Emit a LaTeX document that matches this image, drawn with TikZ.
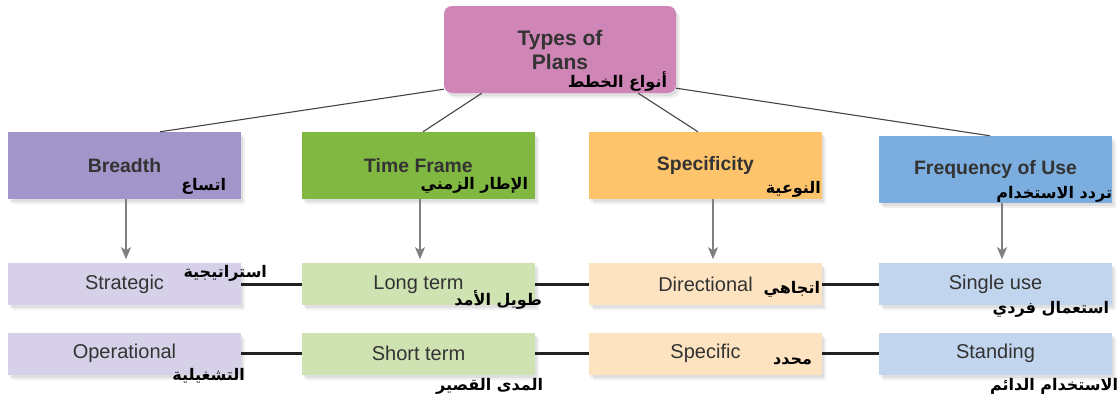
\documentclass[tikz,border=0pt]{standalone}
\usepackage{fontspec}
\setmainfont{Liberation Sans}
\newfontfamily\arabicfont[Script=Arabic]{DejaVu Sans}
\TeXXeTstate=1
\usetikzlibrary{positioning,shadows,arrows.meta}

\definecolor{rootpink}{HTML}{CF85B5}
\definecolor{breadthpurple}{HTML}{A195C9}
\definecolor{timegreen}{HTML}{80B842}
\definecolor{specorange}{HTML}{FEC46C}
\definecolor{freqblue}{HTML}{7BAEDE}
\definecolor{breadthlight}{HTML}{D6D1E8}
\definecolor{timelight}{HTML}{CFE2B2}
\definecolor{speclight}{HTML}{FDE3C0}
\definecolor{freqlight}{HTML}{C1D6EE}
\definecolor{textgray}{HTML}{333333}
\definecolor{linegray}{HTML}{444444}
\definecolor{arrowgray}{HTML}{808080}
\definecolor{linkblack}{HTML}{222222}

\tikzset{
    boxshadow/.style={drop shadow={shadow xshift=4pt, shadow yshift=-5pt, opacity=0.12},
                      drop shadow={shadow xshift=2pt, shadow yshift=-3pt, opacity=0.15}},
    rootbox/.style={rectangle, rounded corners=8pt, minimum width=232pt, minimum height=87pt, inner sep=0pt,
                    align=center, text=textgray, font=\bfseries\fontsize{21}{24}\selectfont, boxshadow},
    groupbox/.style={rectangle, minimum width=233pt, minimum height=67pt, inner sep=0pt,
                     text=textgray, font=\bfseries\fontsize{19.4}{22}\selectfont, boxshadow},
    leafbox/.style={rectangle, minimum width=233pt, minimum height=42pt, inner sep=0pt,
                    text=textgray, font=\fontsize{20}{22}\selectfont, boxshadow},
    arlabel/.style={inner sep=0pt, anchor=base east, font=\arabicfont\bfseries\fontsize{16}{18}\selectfont},
    branch/.style={draw=linegray, line width=1.1pt},
    down/.style={-{Stealth[length=12pt, width=10pt, inset=3pt]}, draw=arrowgray, line width=2pt, shorten >=4pt},
    link/.style={draw=linkblack, line width=3pt}
}

\begin{document}
\begin{tikzpicture}[x=1pt, y=-1pt, node distance=27pt]
    \useasboundingbox (0,0) rectangle (1120,400);

    \node[rootbox, fill=rootpink] (root) at (560,49.5) {Types of\\Plans};
    \node[arlabel] (root_ar) at ([xshift=-9pt, yshift=6pt]root.south east) {\beginR أنواع الخطط\endR};

    \node[groupbox, fill=breadthpurple] (breadth) at (124.5,165.5) {Breadth};
    \node[groupbox, fill=timegreen] (timeframe) at (418.5,165.5) {Time Frame};
    \node[groupbox, fill=specorange] (specificity) at (705.5,165.5) {Specificity};
    \node[groupbox, fill=freqblue] (frequency) at (995.5,169.5) {Frequency of Use};
    \node[arlabel] (breadth_ar) at ([xshift=-15pt, yshift=9pt]breadth.south east) {\beginR اتساع\endR};
    \node[arlabel] (timeframe_ar) at ([xshift=-7pt, yshift=10pt]timeframe.south east) {\beginR الإطار الزمني\endR};
    \node[arlabel] (specificity_ar) at ([xshift=-1pt, yshift=6pt]specificity.south east) {\beginR النوعية\endR};
    \node[arlabel] (frequency_ar) at ([yshift=5pt]frequency.south east) {\beginR تردد الاستخدام\endR};

    \node[leafbox, fill=breadthlight] (strategic) [below=64pt of breadth] {Strategic};
    \node[leafbox, fill=breadthlight] (operational) [below=of strategic] {Operational};
    \node[leafbox, fill=timelight] (longterm) [below=64pt of timeframe] {Long term};
    \node[leafbox, fill=timelight] (shortterm) [below=of longterm] {Short term};
    \node[leafbox, fill=speclight] (directional) [below=64pt of specificity] {Directional};
    \node[leafbox, fill=speclight] (specific) [below=of directional] {Specific};
    \node[leafbox, fill=freqlight] (singleuse) [below=60pt of frequency] {Single use};
    \node[leafbox, fill=freqlight] (standing) [below=of singleuse] {Standing};

    \node[arlabel] (strategic_ar) at ([xshift=26pt, yshift=-14pt]strategic.north east) {\beginR استراتيجية\endR};
    \node[arlabel] (operational_ar) at ([xshift=4pt, yshift=-5pt]operational.south east) {\beginR التشغيلية\endR};
    \node[arlabel] (longterm_ar) at ([xshift=7pt]longterm.south east) {\beginR طويل الأمد\endR};
    \node[arlabel] (shortterm_ar) at ([xshift=8pt, yshift=-15pt]shortterm.south east) {\beginR المدى القصير\endR};
    \node[arlabel] (directional_ar) at ([xshift=-2pt, yshift=12pt]directional.south east) {\beginR اتجاهي\endR};
    \node[arlabel] (specific_ar) at ([xshift=-10pt, yshift=11pt]specific.south east) {\beginR محدد\endR};
    \node[arlabel] (singleuse_ar) at ([xshift=-3pt, yshift=-8pt]singleuse.south east) {\beginR استعمال فردي\endR};
    \node[arlabel] (standing_ar) at ([xshift=6pt, yshift=-15pt]standing.south east) {\beginR الاستخدام الدائم\endR};

    \draw [branch] ([yshift=4pt]root.south west) -- ([xshift=35.5pt]breadth.north);
    \draw [branch] ([xshift=38pt]root.south west) -- ([xshift=4.5pt]timeframe.north);
    \draw [branch] ([xshift=-38pt]root.south east) -- ([xshift=-7.5pt]specificity.north);
    \draw [branch] ([yshift=5pt]root.south east) -- ([xshift=-5.5pt]frequency.north);

    \draw [down] ([xshift=1.5pt]breadth.south) -- ([xshift=1.5pt]strategic.north);
    \draw [down] ([xshift=1.5pt]timeframe.south) -- ([xshift=1.5pt]longterm.north);
    \draw [down] ([xshift=7.5pt]specificity.south) -- ([xshift=7.5pt]directional.north);
    \draw [down] ([xshift=6.5pt]frequency.south) -- ([xshift=6.5pt]singleuse.north);

    \draw [link] (strategic) -- (longterm);
    \draw [link] (longterm) -- (directional);
    \draw [link] (directional) -- (singleuse);
    \draw [link] (operational) -- (shortterm);
    \draw [link] (shortterm) -- (specific);
    \draw [link] (specific) -- (standing);

\end{tikzpicture}
\end{document}
